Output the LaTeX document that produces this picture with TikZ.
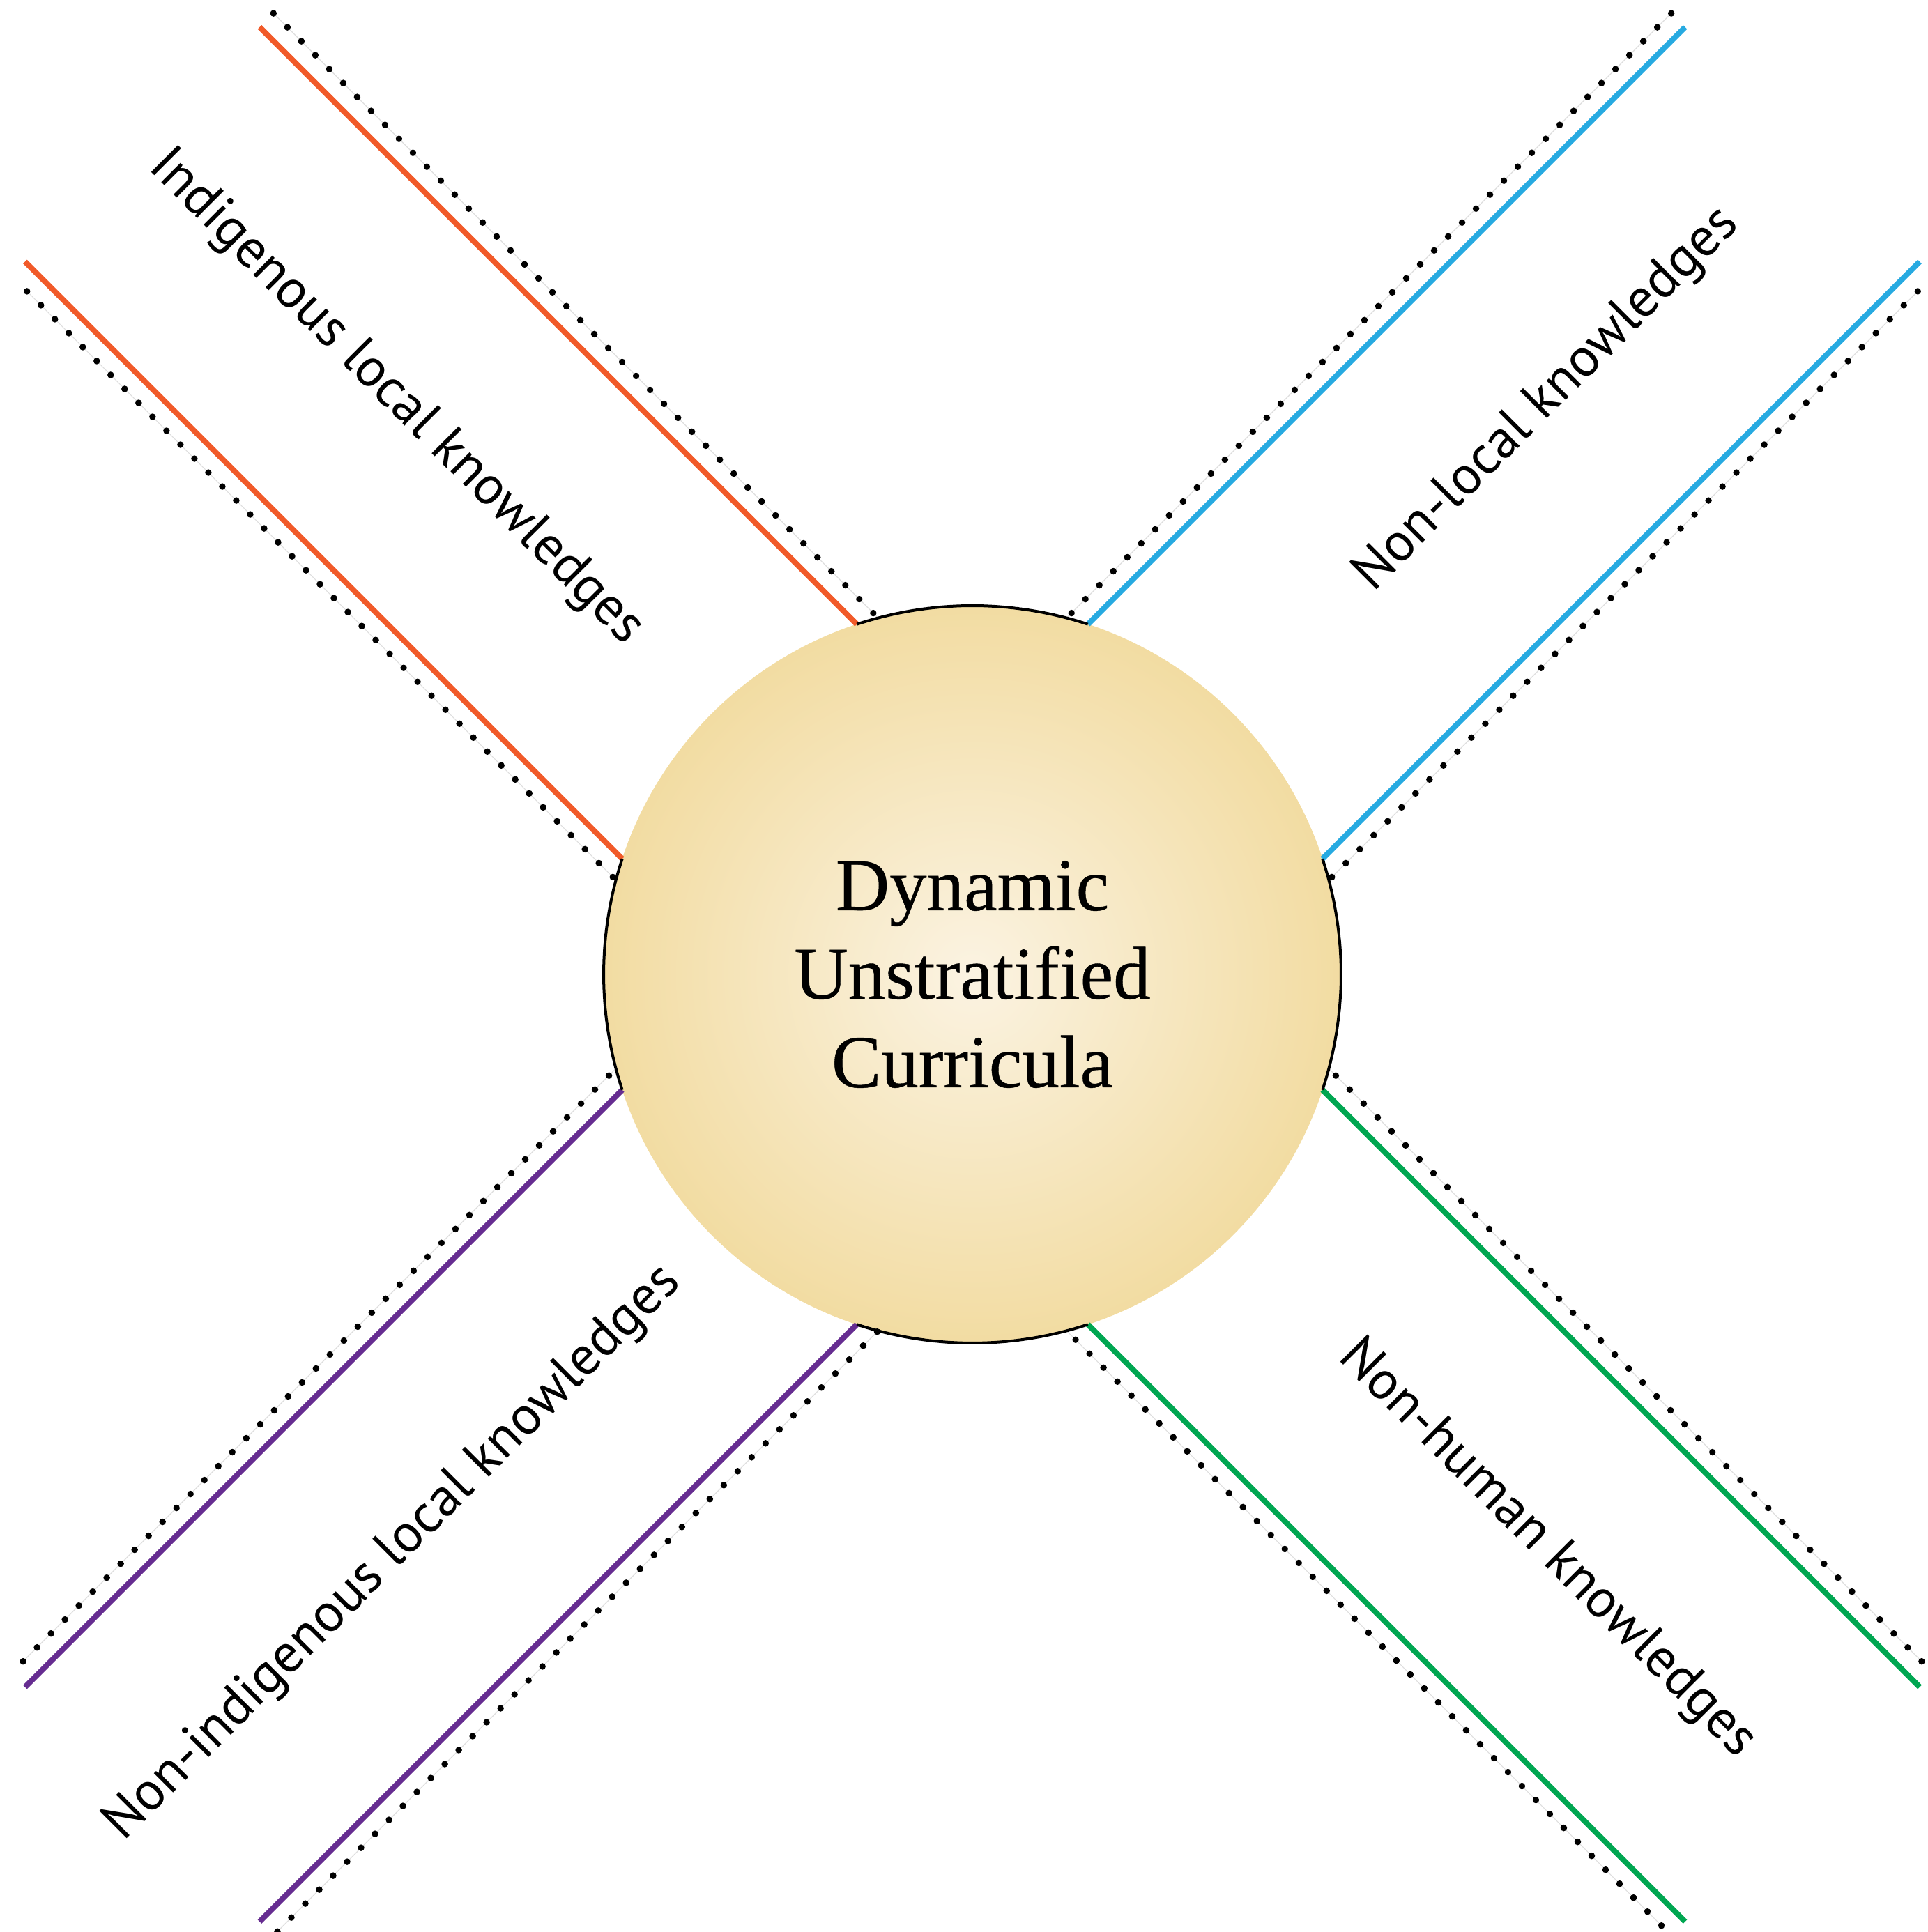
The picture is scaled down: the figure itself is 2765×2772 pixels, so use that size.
\documentclass[tikz,border=0pt]{standalone}
\usepackage{fontspec}
\setmainfont{Liberation Serif}
\newfontfamily\corefont[FakeBold=0.4]{Liberation Serif}
\newfontfamily\labelfont{PT Sans}
\usetikzlibrary{calc}

\definecolor{indig}{HTML}{F15A29}
\definecolor{nonlocal}{HTML}{27AAE1}
\definecolor{nonhuman}{HTML}{00A651}
\definecolor{nonindig}{HTML}{662D91}
\definecolor{discin}{HTML}{FBF3E2}
\definecolor{discout}{HTML}{F2DCA2}

\tikzset{
  disc/.style={circle, minimum size=1058pt, inner sep=0pt, outer sep=0pt,
    shade, inner color=discin, outer color=discout, align=center,
    font=\corefont\fontsize{107}{127}\selectfont},
  strand/.style={line width=8pt, line cap=butt},
  dotrail/.style={line width=1.2pt, black!13},
  dotrow/.style={line width=9.5pt, line cap=round, dash pattern=on 0pt off 28.3pt},
  rim/.style={line width=4pt, black},
  bandlabel/.style={font=\labelfont\fontsize{78}{82}\selectfont, inner sep=0pt},
}

% One band of knowledge: two coloured strands on either side of the axis,
% each flanked on the outside by a row of dots.
% #1 name, #2 axis angle, #3 colour, #4/#5 outer reach of the dot rows
\newcommand\knowband[5]{%
  \begin{scope}[shift={(C)}, rotate=#2]
    \coordinate (#1-pa) at (472.4, 238);
    \coordinate (#1-pb) at (1684, 238);
    \coordinate (#1-ma) at (472.4, -238);
    \coordinate (#1-mb) at (1684, -238);
    \coordinate (#1-dpa) at (457.3, 266);
    \coordinate (#1-dpb) at (#4, 266);
    \coordinate (#1-dma) at (457.3, -266);
    \coordinate (#1-dmb) at (#5, -266);
  \end{scope}
  \draw[dotrail] (#1-dpb) -- (#1-dpa);
  \draw[dotrail] (#1-dmb) -- (#1-dma);
  \draw[dotrow] (#1-dpb) -- (#1-dpa);
  \draw[dotrow] (#1-dmb) -- (#1-dma);
  \draw[strand, #3] (#1-pa) -- (#1-pb);
  \draw[strand, #3] (#1-ma) -- (#1-mb);
}

\begin{document}
\begin{tikzpicture}[x=1pt, y=1pt]
  \useasboundingbox (0,0) rectangle (2765,2772);
  \coordinate (C) at (1395,1374);

  \node[disc] (core) at (C) {Dynamic\\Unstratified\\Curricula};

  \knowband{indig}{135}{indig}{1652}{1684}
  \knowband{nonlocal}{45}{nonlocal}{1684}{1652}
  \knowband{nonhuman}{-45}{nonhuman}{1660}{1664}
  \knowband{nonindig}{225}{nonindig}{1676}{1660}

  % outline of the disc between the bands
  \draw[rim] (nonlocal-pa) arc[start angle=71.74, end angle=108.26, radius=529];
  \draw[rim] (nonhuman-pa) arc[start angle=-18.26, end angle=18.26, radius=529];
  \draw[rim] (nonindig-pa) arc[start angle=251.74, end angle=288.26, radius=529];
  \draw[rim] (indig-pa) arc[start angle=161.74, end angle=198.26, radius=529];

  \node[bandlabel, rotate=-45] (indig-label) at ($(C)+(135:1170)$) {Indigenous local knowledges};
  \node[bandlabel, rotate=45] (nonlocal-label) at ($(C)+(45:1166)$) {Non-local knowledges};
  \node[bandlabel, rotate=-45] (nonhuman-label) at ($(C)+(-45:1166)$) {Non-human knowledges};
  \node[bandlabel, rotate=45] (nonindig-label) at ($(C)+(225:1175)$) {Non-indigenous local knowledges};
\end{tikzpicture}
\end{document}
